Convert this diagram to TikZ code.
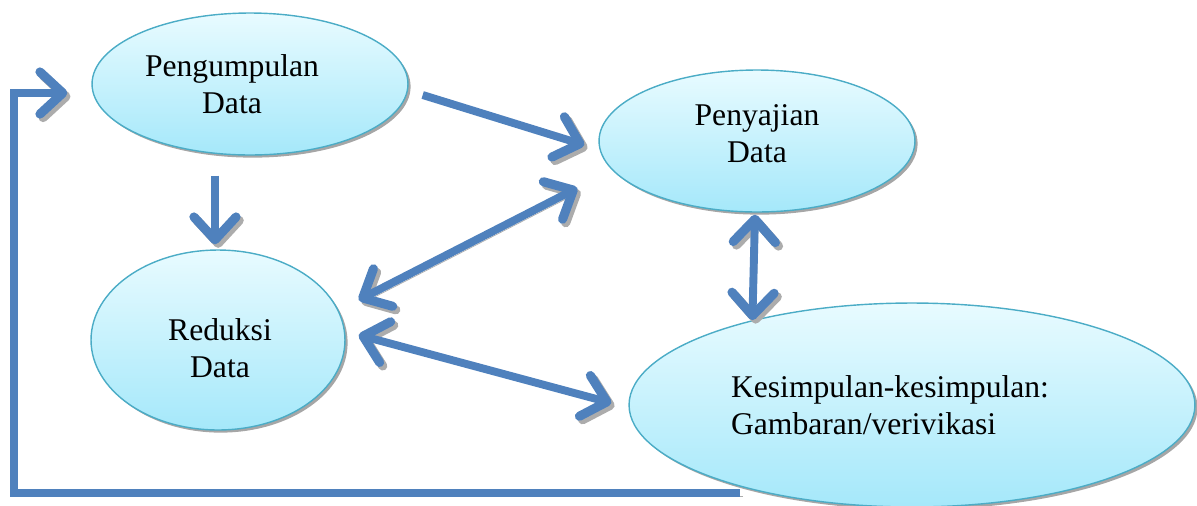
\documentclass[tikz,border=0pt]{standalone}
\usepackage{fontspec}
\setmainfont{Liberation Serif}
\usetikzlibrary{arrows.meta,shapes.geometric,shadows,calc}
\definecolor{biru}{RGB}{79,129,189}
\definecolor{tepi}{RGB}{75,172,198}
\definecolor{atas}{RGB}{232,251,255}
\definecolor{bawah}{RGB}{165,232,250}
\begin{document}
\begin{tikzpicture}[x=0.02cm, y=-0.02cm,
  every node/.style={font=\fontsize{18}{21}\selectfont},
  tahap/.style={ellipse, draw=tepi, line width=0.8pt, top color=atas, bottom color=bawah,
    inner sep=0pt, drop shadow={shadow xshift=1.5pt, shadow yshift=-1.5pt, fill=gray!70, opacity=1}},
  >={Straight Barb[length=13pt,width=24pt,line width=0pt 1.15,round]},
  panah/.style={line width=4.5pt, draw=biru,
    preaction={draw=gray!65, transform canvas={xshift=1.8pt, yshift=-2pt}}}]
  \useasboundingbox (0,0) rectangle (1197,505);
  % Ellipses
  \node[tahap, minimum width=6.32cm, minimum height=2.84cm,
    label={[align=center, xshift=-0.36cm]center:Pengumpulan\\Data}] (kumpul) at (250,84) {};
  \node[tahap, minimum width=6.32cm, minimum height=2.84cm,
    label={[align=center, yshift=0.15cm]center:Penyajian\\Data}] (sajian) at (757,141) {};
  \node[tahap, minimum width=5.08cm, minimum height=3.6cm,
    label={[align=center, xshift=0.04cm, yshift=-0.17cm]center:Reduksi\\Data}] (reduksi) at (218,340) {};
  \node[tahap, minimum width=11.32cm, minimum height=4.08cm,
    label={[align=left, xshift=-0.44cm]center:Kesimpulan-kesimpulan:\\Gambaran/verivikasi}] (simpul) at (912,405) {};
  % Arrows
  \draw[panah, ->] ($(kumpul.east)+(14,11)$) -- ($(sajian.west)+(-14,4)$);
  \draw[panah, ->] ($(kumpul.south)+(-35,20)$) -- ($(reduksi.north)+(-3,-5)$);
  \draw[panah, <->] ($(reduksi.east)+(13,-40)$) -- ($(sajian.west)+(-21,47)$);
  \draw[panah, <->] ($(reduksi.east)+(13,-5)$) -- ($(simpul.west)+(-17,-2)$);
  \draw[panah, <->] ($(sajian.south)+(-2,2)$) -- (simpul.152);
  % Feedback loop
  \coordinate (balik) at (740,493);
  \draw[panah, ->] (balik) -| ($(kumpul.west)+(-77,9)$) -- ($(kumpul.west)+(-24,9)$);
\end{tikzpicture}
\end{document}
